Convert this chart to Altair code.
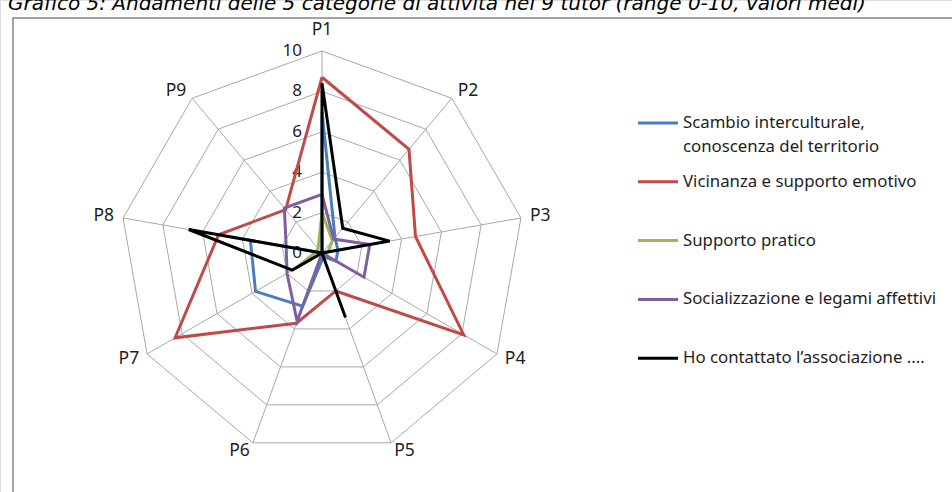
import altair as alt
import pandas as pd

# --- data -------------------------------------------------------------
axis_labels = ["P1", "P2", "P3", "P4", "P5", "P6", "P7", "P8", "P9"]

series_names = [
    "Scambio interculturale, conoscenza del territorio",
    "Vicinanza e supporto emotivo",
    "Supporto pratico",
    "Socializzazione e legami affettivi",
    "Ho contattato l\u2019associazione ....",
]
legend_lines = [
    ["Scambio interculturale,", "conoscenza del territorio"],
    ["Vicinanza e supporto emotivo"],
    ["Supporto pratico"],
    ["Socializzazione e legami affettivi"],
    ["Ho contattato l\u2019associazione ...."],
]
series_colors = ["#4A7EBB", "#BE4B48", "#98B954", "#7D60A0", "#000000"]

scambio = [7.0, 1.0, 0.8, 0.8, 0.2, 2.8, 3.8, 3.6, 0.0]
vicinanza = [8.7, 6.7, 4.7, 8.1, 2.0, 3.7, 8.4, 5.2, 2.8]
supporto = [2.0, 0.8, 0.3, 0.0, 0.0, 0.0, 1.5, 0.3, 0.3]
socializzazione = [2.9, 0.9, 2.4, 2.4, 0.0, 3.6, 2.0, 1.8, 2.9]
contattato = [8.4, 1.6, 3.4, 0.0, 3.4, 0.0, 1.7, 6.7, 0.0]
series_values = [scambio, vicinanza, supporto, socializzazione, contattato]

ring_levels = [2, 4, 6, 8, 10]
tick_values = [0, 2, 4, 6, 8, 10]

title_text = ("Grafico 5: Andamenti delle 5 categorie di attivit\u00e0 nei 9 tutor "
              "(range 0-10, valori medi)")

# --- geometry -----------------------------------------------------------
W, H = 952, 492
CX, CY, UNIT = 322, 253, 20.2          # centre of the radar, pixels per unit
x_scale = alt.Scale(domain=[-CX / UNIT, (W - CX) / UNIT], nice=False, zero=False)
y_scale = alt.Scale(domain=[-(H - CY) / UNIT, CY / UNIT], nice=False, zero=False)
STEP = 360 / len(axis_labels)

def X(field):
    return alt.X(field, type="quantitative", scale=x_scale, axis=None)

def Y(field):
    return alt.Y(field, type="quantitative", scale=y_scale, axis=None)

polar = dict(px="datum.r * sin(datum.angle * PI / 180)",
             py="datum.r * cos(datum.angle * PI / 180)")

FONT = "Noto Sans"
TEXT_COLOR = "#1E1E1E"

# --- grid ---------------------------------------------------------------
ring_rows = []
for lev in ring_levels:
    for i in range(len(axis_labels) + 1):
        ring_rows.append({"level": lev, "order": i, "r": lev,
                          "angle": (i % len(axis_labels)) * STEP})
rings = alt.Chart(pd.DataFrame(ring_rows)).transform_calculate(**polar).mark_line(
    color="#A8A8A8", strokeWidth=1
).encode(x=X("px"), y=Y("py"), detail="level:N", order="order:Q")

spoke_df = pd.DataFrame({"axis": axis_labels,
                         "angle": [k * STEP for k in range(len(axis_labels))],
                         "r": [max(ring_levels)] * len(axis_labels)})
spokes = alt.Chart(spoke_df).transform_calculate(**polar, zero="0").mark_rule(
    color="#A8A8A8", strokeWidth=1
).encode(x=X("zero"), y=Y("zero"), x2="px:Q", y2="py:Q")

tick_df = pd.DataFrame({"v": tick_values, "label": [str(v) for v in tick_values]})
ticks = alt.Chart(tick_df).transform_calculate(zero="0").mark_text(
    align="right", baseline="middle", dx=-20, fontSize=17, font=FONT, color=TEXT_COLOR
).encode(x=X("zero"), y=Y("v"), text="label:N")

# --- category labels ----------------------------------------------------
cat_df = pd.DataFrame({"label": axis_labels,
                       "angle": [k * STEP for k in range(len(axis_labels))]})

def cat_layer(cond, align):
    return alt.Chart(cat_df).transform_filter(cond).transform_calculate(
        r="datum.angle == 0 ? 11.05 : 10.45"
    ).transform_calculate(**polar).mark_text(
        align=align, baseline="middle", fontSize=17.5, font=FONT, color=TEXT_COLOR
    ).encode(x=X("px"), y=Y("py"), text="label:N")

cats = [cat_layer("datum.angle == 0", "center"),
        cat_layer("datum.angle > 0 && datum.angle < 180", "left"),
        cat_layer("datum.angle >= 180", "right")]

# --- series -------------------------------------------------------------
series_layers = []
for name, vals, col in zip(series_names, series_values, series_colors):
    rows = []
    for i in range(len(vals) + 1):
        k = i % len(vals)
        rows.append({"series": name, "order": i, "axis": axis_labels[k],
                     "r": vals[k], "angle": k * STEP})
    series_layers.append(
        alt.Chart(pd.DataFrame(rows)).transform_calculate(**polar).mark_line(
            color=col, strokeWidth=3
        ).encode(x=X("px"), y=Y("py"), order="order:Q")
    )

# --- legend -------------------------------------------------------------
leg_df = pd.DataFrame({"series": series_names, "idx": list(range(len(series_names))),
                       "lines": legend_lines})
leg_color = alt.Color("series:N", scale=alt.Scale(domain=series_names,
                                                  range=series_colors), legend=None)
leg_base = alt.Chart(leg_df).transform_calculate(ly="123 + datum.idx * 58.8")
leg_rules = leg_base.mark_rule(strokeWidth=3).encode(
    x=alt.value(638), x2=alt.value(678), y=alt.Y("ly:Q", scale=None), color=leg_color)
leg_text = leg_base.mark_text(
    align="left", baseline="middle", fontSize=16.8, font=FONT, color=TEXT_COLOR,
    lineHeight=23.5
).encode(x=alt.value(683), y=alt.Y("ly:Q", scale=None), text="lines")

# --- frame and title ----------------------------------------------------
one = pd.DataFrame({"t": [title_text]})
frame = alt.Chart(one).mark_rect(fillOpacity=0, stroke="#858585", strokeWidth=1.5).encode(
    x=alt.value(13), x2=alt.value(W + 20), y=alt.value(18), y2=alt.value(H + 20))
title = alt.Chart(one).mark_text(
    align="left", baseline="alphabetic", fontSize=20, fontStyle="italic",
    font="DejaVu Sans", color="#000000"
).encode(x=alt.value(8), y=alt.value(10), text="t:N")

chart = alt.layer(
    frame, rings, spokes, ticks, *cats, *series_layers, leg_rules, leg_text, title
).properties(
    width=W, height=H, padding=0, autosize=alt.AutoSizeParams(type="none")
).configure_view(stroke=None).configure(background="white")

chart.save("out.html", embed_options={"renderer": "svg", "actions": False})
